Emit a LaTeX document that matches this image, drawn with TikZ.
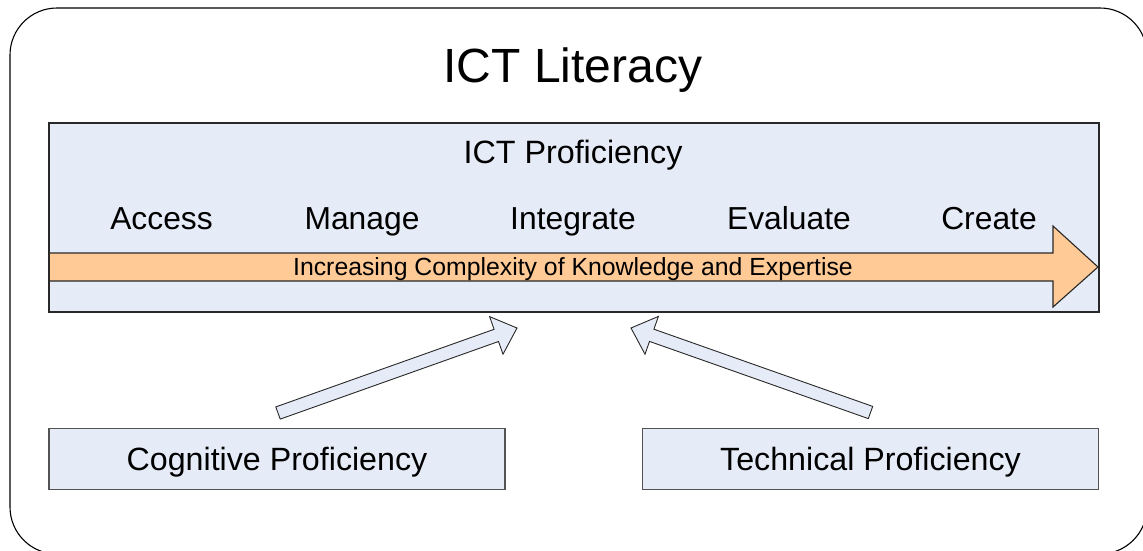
\documentclass[tikz,border=0pt]{standalone}
\usepackage{fontspec}
\setmainfont{Liberation Sans}
\definecolor{boxblue}{RGB}{230,236,247}
\definecolor{arroworange}{RGB}{255,202,150}
\definecolor{edge}{RGB}{40,40,40}
\begin{document}
\begin{tikzpicture}[x=1pt,y=-1pt,
  lab/.style={font=\fontsize{31.8}{36}\selectfont,inner sep=0pt,anchor=base},
  smallbox/.style={draw=edge!80,line width=1.2pt,fill=boxblue,minimum width=456pt,minimum height=61pt},
  boxtext/.style={font=\fontsize{32.2}{37}\selectfont,inner sep=0pt,anchor=base},
  hollow/.style={draw=edge,line width=0.9pt,fill=boxblue,line join=miter}]
\useasboundingbox (0,0) rectangle (1143,550);
\begin{scope}
\clip (0,0) rectangle (1143,550);
\draw[line width=1.1pt,rounded corners=47pt] (10,8) rectangle (1147,554);
\end{scope}
\node[inner sep=0pt,font=\fontsize{48}{55}\selectfont,anchor=base] (title) at (573,82) {ICT Literacy};
% main box
\fill[boxblue] (49,123) rectangle (1099,312);
\draw[draw=edge,line width=1.1pt,fill=arroworange,line join=miter]
  (49,253) -- (1053,253) -- (1053,226) -- (1098,267) -- (1053,307) -- (1053,281) -- (49,281) -- cycle;
\draw[draw=edge,line width=1.1pt] (49,123) rectangle (1099,312);
\node[lab,font=\fontsize{32.3}{37}\selectfont] (prof) at (573,163) {ICT Proficiency};
\node[lab] (access) at (161.5,229) {Access};
\node[lab] (manage) at (362,229) {Manage};
\node[lab] (integrate) at (573,229) {Integrate};
\node[lab] (evaluate) at (789,229) {Evaluate};
\node[lab] (create) at (989,229) {Create};
\node[inner sep=0pt,font=\fontsize{24.8}{28}\selectfont,anchor=base] (increasing) at (573,275) {Increasing Complexity of Knowledge and Expertise};
% bottom boxes
\node[smallbox] (cog) at (277,459) {};
\node[smallbox] (tech) at (870.5,459) {};
\node[boxtext] (cogtext) at (277,470) {Cognitive Proficiency};
\node[boxtext] (techtext) at (870.5,470) {Technical Proficiency};
% hollow block arrows
\draw[hollow] (280.2,419.1) -- (498.5,341.5) -- (503.0,354.2) -- (517,328) -- (489.6,316.6) -- (494.1,329.3) -- (275.8,406.9) -- cycle;
\draw[hollow] (872.7,406.4) -- (653.9,329.2) -- (658.4,316.4) -- (631,328) -- (645.0,354.2) -- (649.5,341.4) -- (868.3,418.6) -- cycle;
\end{tikzpicture}
\end{document}
